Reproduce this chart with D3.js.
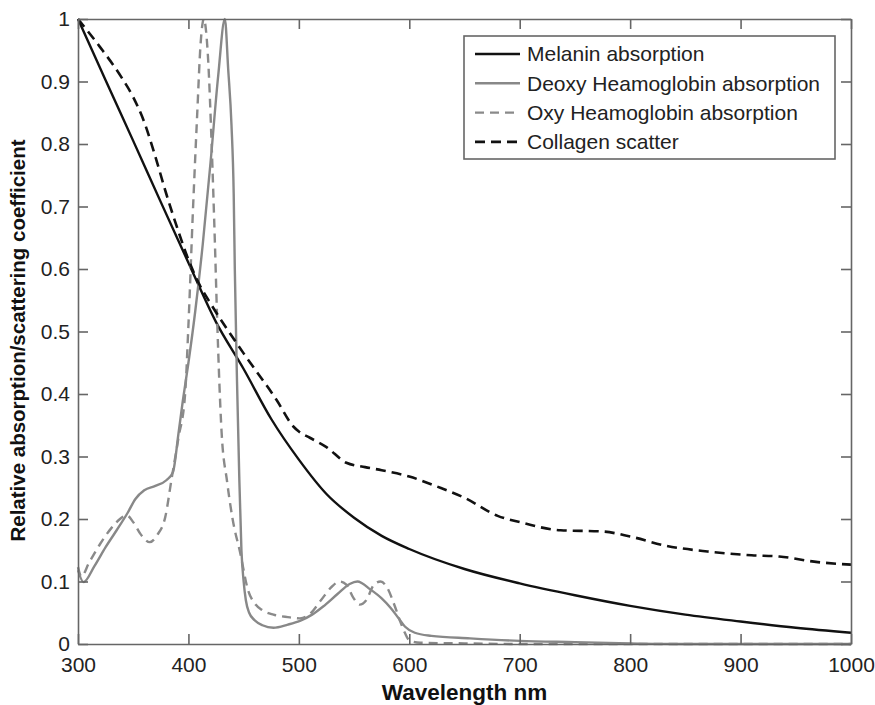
<!DOCTYPE html>
<html>
<head>
<meta charset="utf-8">
<script src="https://cdn.jsdelivr.net/npm/d3@7"></script>
<style>
  body { margin: 0; background: #fff; }
  svg { display: block; font-family: "Liberation Sans", Arial, Helvetica, sans-serif; }
</style>
</head>
<body>
<div id="chart"></div>
<script>
// Relative absorption / scattering spectra, 300-1000 nm
const xTicks = [300, 400, 500, 600, 700, 800, 900, 1000];
const yTicks = [0, 0.1, 0.2, 0.3, 0.4, 0.5, 0.6, 0.7, 0.8, 0.9, 1];

const melaninWl = [300, 325, 350, 375, 400, 425, 450, 475, 500, 525, 550, 575, 600, 650, 700, 750, 800, 850, 900, 950, 1000];
const melaninVal = [1.0, 0.902, 0.805, 0.707, 0.61, 0.515, 0.44, 0.36, 0.295, 0.24, 0.202, 0.173, 0.152, 0.12, 0.097, 0.078, 0.061, 0.047, 0.036, 0.026, 0.018];

const deoxyWl = [300, 305, 315, 325, 335, 345, 352, 360, 370, 380, 386, 391, 395, 400, 406, 413, 420, 427, 433, 436, 439, 441, 442, 444, 446, 448, 450, 452, 455, 460, 467, 477, 490, 501, 512, 522, 535, 546, 553, 565, 575, 583, 590, 596, 605, 620, 655, 700, 750, 800, 850, 1000];
const deoxyVal = [0.118, 0.099, 0.125, 0.155, 0.182, 0.21, 0.232, 0.246, 0.253, 0.262, 0.275, 0.337, 0.39, 0.45, 0.53, 0.64, 0.77, 0.91, 1.0, 0.92, 0.83, 0.72, 0.6, 0.42, 0.27, 0.15, 0.1, 0.07, 0.05, 0.038, 0.03, 0.026, 0.031, 0.037, 0.047, 0.06, 0.08, 0.096, 0.1, 0.087, 0.073, 0.058, 0.042, 0.028, 0.018, 0.013, 0.009, 0.005, 0.003, 0.001, 0, 0];

const oxyWl = [300, 303, 310, 320, 330, 338, 344, 350, 357, 365, 372, 379, 385, 391, 397, 400, 404, 408, 411, 414, 416, 418, 421, 424, 426, 430, 435, 440, 447, 454, 460, 467, 477, 490, 501, 510, 520, 530, 537, 543, 549, 555, 561, 568, 574, 580, 587, 592, 596, 600, 610, 650, 700, 1000];
const oxyVal = [0.123, 0.108, 0.13, 0.16, 0.185, 0.2, 0.206, 0.195, 0.175, 0.163, 0.175, 0.203, 0.267, 0.33, 0.4, 0.51, 0.69, 0.85, 0.96, 1.0, 0.98, 0.93, 0.8, 0.64, 0.52, 0.34, 0.26, 0.2, 0.145, 0.086, 0.065, 0.054, 0.047, 0.043, 0.041, 0.048, 0.07, 0.092, 0.1, 0.095, 0.075, 0.063, 0.07, 0.095, 0.1, 0.09, 0.06, 0.035, 0.018, 0.006, 0.002, 0.001, 0, 0];

const collagenWl = [300, 320, 340, 350, 360, 370, 380, 390, 400, 410, 420, 450, 480, 495, 500, 510, 525, 543, 560, 575, 600, 625, 650, 680, 700, 737, 775, 800, 833, 870, 910, 935, 970, 1000];
const collagenVal = [1.0, 0.955, 0.905, 0.875, 0.835, 0.78, 0.72, 0.665, 0.615, 0.575, 0.545, 0.465, 0.39, 0.348, 0.34, 0.33, 0.315, 0.29, 0.283, 0.278, 0.268, 0.252, 0.234, 0.205, 0.195, 0.182, 0.18, 0.172, 0.157, 0.148, 0.142, 0.14, 0.131, 0.127];

const seriesNames = ["Melanin absorption", "Deoxy Heamoglobin absorption", "Oxy Heamoglobin absorption", "Collagen scatter"];

const zip = (xs, ys) => xs.map((x, i) => ({ x: x, y: ys[i] }));
const series = [
    { name: seriesNames[0], data: zip(melaninWl, melaninVal), color: "#111", dash: null, w: 2.4 },
    { name: seriesNames[1], data: zip(deoxyWl, deoxyVal), color: "#888", dash: null, w: 2.4 },
    { name: seriesNames[2], data: zip(oxyWl, oxyVal), color: "#8a8a8a", dash: "9,6", w: 2.4 },
    { name: seriesNames[3], data: zip(collagenWl, collagenVal), color: "#111", dash: "10,6", w: 2.6 }
];

const W = 875, H = 705;
const margin = { top: 19, right: 24, bottom: 61, left: 78 };
const width = W - margin.left - margin.right;
const height = H - margin.top - margin.bottom;
const axisColor = "#666";

const svg = d3.select("#chart").append("svg")
    .attr("width", W)
    .attr("height", H);

const g = svg.append("g")
    .attr("transform", `translate(${margin.left},${margin.top})`);

const x = d3.scaleLinear().domain([300, 1000]).range([0, width]);
const y = d3.scaleLinear().domain([0, 1]).range([height, 0]);

const line = d3.line()
    .x(d => x(d.x))
    .y(d => y(d.y))
    .curve(d3.curveMonotoneX);

// curves
series.forEach(s => {
    g.append("path")
        .datum(s.data)
        .attr("fill", "none")
        .attr("stroke", s.color)
        .attr("stroke-width", s.w)
        .attr("stroke-dasharray", s.dash)
        .attr("stroke-linejoin", "round")
        .attr("d", line);
});

// axes, ticks pointing inward on all four sides
const fmt = d => String(+d.toFixed(1));
const styleAxis = sel => {
    sel.select(".domain").attr("stroke", axisColor).attr("stroke-width", 1.6);
    sel.selectAll(".tick line").attr("stroke", axisColor).attr("stroke-width", 1.6);
    sel.selectAll(".tick text")
        .attr("fill", "#222")
        .style("font-size", "21px");
};

g.append("g")
    .attr("transform", `translate(0,${height})`)
    .call(d3.axisBottom(x).tickValues(xTicks).tickFormat(d3.format("d")).tickSizeInner(-10).tickSizeOuter(0).tickPadding(13))
    .call(styleAxis);

g.append("g")
    .call(d3.axisLeft(y).tickValues(yTicks).tickFormat(fmt).tickSizeInner(-10).tickSizeOuter(0).tickPadding(8))
    .call(styleAxis);

g.append("g")
    .call(d3.axisTop(x).tickValues(xTicks).tickFormat("").tickSizeInner(-10).tickSizeOuter(0))
    .call(styleAxis);

g.append("g")
    .attr("transform", `translate(${width},0)`)
    .call(d3.axisRight(y).tickValues(yTicks).tickFormat("").tickSizeInner(-10).tickSizeOuter(0))
    .call(styleAxis);

// axis titles
svg.append("text")
    .attr("x", margin.left + width / 2)
    .attr("y", 700)
    .attr("text-anchor", "middle")
    .style("font-size", "22.5px")
    .style("font-weight", "bold")
    .attr("fill", "#111")
    .text("Wavelength nm");

svg.append("text")
    .attr("transform", `translate(25,${margin.top + height / 2 + 9}) rotate(-90)`)
    .attr("text-anchor", "middle")
    .style("font-size", "20.5px")
    .style("font-weight", "bold")
    .attr("fill", "#111")
    .text("Relative absorption/scattering coefficient");

// legend
const legend = svg.append("g").attr("transform", "translate(464,36)");
legend.append("rect")
    .attr("width", 371)
    .attr("height", 123)
    .attr("fill", "#fff")
    .attr("stroke", axisColor)
    .attr("stroke-width", 1.6);

series.forEach((s, i) => {
    const row = legend.append("g").attr("transform", `translate(0,${18 + i * 29.3})`);
    row.append("line")
        .attr("x1", 11).attr("x2", 56)
        .attr("stroke", s.color)
        .attr("stroke-width", s.w)
        .attr("stroke-dasharray", s.dash);
    row.append("text")
        .attr("x", 63)
        .attr("dy", "0.35em")
        .style("font-size", "21px")
        .attr("fill", "#222")
        .text(s.name);
});
</script>
</body>
</html>
